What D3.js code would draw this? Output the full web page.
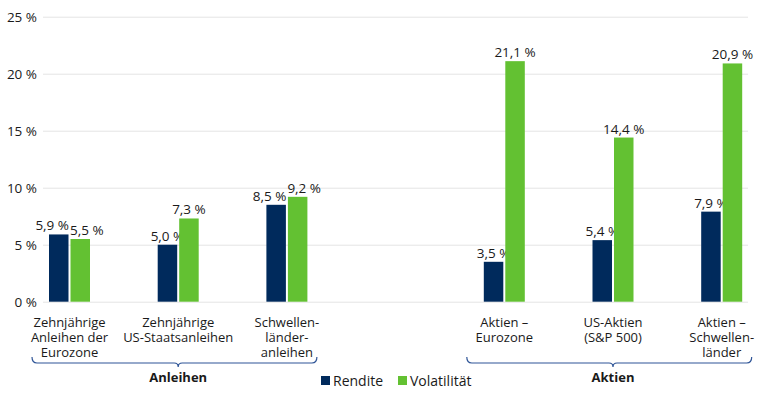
<!DOCTYPE html>
<html lang="de">
<head>
<meta charset="utf-8">
<title>Rendite und Volatilität</title>
<script src="https://cdn.jsdelivr.net/npm/d3@7"></script>
<style>
  body { margin: 0; background: #fff; }
  text { font-family: "Open Sans", "Noto Sans", sans-serif; fill: #1a1a1a; }
</style>
</head>
<body>
<script>
// data
var categories = [
  ["Zehnjährige", "Anleihen der", "Eurozone"],
  ["Zehnjährige", "US-Staatsanleihen"],
  ["Schwellen-", "länder-", "anleihen"],
  [],
  ["Aktien –", "Eurozone"],
  ["US-Aktien", "(S&P 500)"],
  ["Aktien –", "Schwellen-", "länder"]
];
var rendite =    [5.9, 5.0, 8.5, null, 3.5, 5.4, 7.9];
var volatilitaet = [5.5, 7.3, 9.2, null, 21.1, 14.4, 20.9];
var seriesNames = ["Rendite", "Volatilität"];
var yTicks = [0, 5, 10, 15, 20, 25];
var groups = [
  { name: "Anleihen", from: 0, to: 2 },
  { name: "Aktien", from: 4, to: 6 }
];

var w = 770, h = 401;
var navy = "#002a5c", green = "#63c132";
var colors = [navy, green];

var svg = d3.select("body").append("svg")
  .attr("width", w)
  .attr("height", h);

// scales
var x = d3.scalePoint()
  .domain(d3.range(categories.length))
  .range([69.5, 721.7]);
var y = d3.scaleLinear()
  .domain([0, 25])
  .range([301.7, 16.7]);
var barW = 19.5, gap = 2;

// gridlines + y labels
var yAxis = d3.axisLeft(y)
  .tickValues(yTicks)
  .tickSize(-(748 - 43))
  .tickPadding(6)
  .tickFormat(function(d) { return d + " %"; });
var gy = svg.append("g")
  .attr("transform", "translate(43,0)")
  .call(yAxis);
gy.select(".domain").remove();
gy.selectAll(".tick line").attr("stroke", "#e4e4e4").attr("stroke-width", 1);
gy.selectAll(".tick text")
  .attr("font-size", "13.5px")
  .attr("fill", "#1a1a1a")
  .attr("font-family", "'Open Sans', sans-serif");

// bars
var seriesData = [rendite, volatilitaet];
var labelSel = [];
seriesData.forEach(function(vals, s) {
  var items = vals.map(function(v, i) { return { i: i, v: v }; })
    .filter(function(d) { return d.v !== null; });
  var offset = s === 0 ? -barW - gap / 2 : gap / 2;
  svg.append("g").selectAll("rect")
    .data(items)
    .enter()
    .append("rect")
    .attr("x", function(d) { return x(d.i) + offset; })
    .attr("y", function(d) { return y(d.v); })
    .attr("width", barW)
    .attr("height", function(d) { return y(0) - y(d.v); })
    .attr("fill", colors[s]);
  labelSel[s] = svg.append("g").selectAll("text")
    .data(items)
    .enter()
    .append("text")
    .text(function(d) { return d.v.toFixed(1).replace(".", ",") + " %"; })
    .attr("x", function(d) { return x(d.i) + offset + barW / 2; })
    .attr("y", function(d) { return y(d.v) - 4; })
    .attr("text-anchor", "middle")
    .attr("font-size", "13.5px");
});

// push apart value labels of the same group if they collide
var left = labelSel[0].nodes(), right = labelSel[1].nodes();
left.forEach(function(ln, k) {
  var rn = right[k];
  var lb = ln.getBBox(), rb = rn.getBBox();
  var vOverlap = lb.y < rb.y + rb.height && rb.y < lb.y + lb.height;
  var over = lb.x + lb.width + 1 - rb.x;
  if (vOverlap && over > 0) {
    var lx = +ln.getAttribute("x"), rx = +rn.getAttribute("x");
    ln.setAttribute("x", lx - over / 2);
    rn.setAttribute("x", rx + over / 2);
  }
});

// category labels
var cat = svg.append("g").selectAll("text")
  .data(categories)
  .enter()
  .append("text")
  .attr("text-anchor", "middle")
  .attr("font-size", "13px")
  .attr("transform", function(d, i) { return "translate(" + x(i) + ",327)"; });
cat.selectAll("tspan")
  .data(function(d) { return d; })
  .enter()
  .append("tspan")
  .attr("x", 0)
  .attr("dy", function(d, j) { return j === 0 ? 0 : 15; })
  .text(function(d) { return d; });

// braces
var braceY = 363;
groups.forEach(function(g) {
  var x0 = x(g.from) - 37.5, x1 = x(g.to) + 30, xm = (x(g.from) + x(g.to)) / 2;
  var path = "M" + x0 + "," + (braceY - 6) +
    " Q" + x0 + "," + braceY + " " + (x0 + 5) + "," + braceY +
    " L" + (xm - 4) + "," + braceY +
    " Q" + xm + "," + braceY + " " + xm + "," + (braceY + 4) +
    " Q" + xm + "," + braceY + " " + (xm + 4) + "," + braceY +
    " L" + (x1 - 5) + "," + braceY +
    " Q" + x1 + "," + braceY + " " + x1 + "," + (braceY - 6);
  svg.append("path")
    .attr("d", path)
    .attr("fill", "none")
    .attr("stroke", "#2f5597")
    .attr("stroke-width", 1.2);
  svg.append("text")
    .text(g.name)
    .attr("x", xm)
    .attr("y", 382)
    .attr("text-anchor", "middle")
    .attr("font-size", "13px")
    .attr("font-weight", "bold");
});

// legend
var legend = svg.append("g").selectAll("g")
  .data(seriesNames)
  .enter()
  .append("g")
  .attr("transform", function(d, i) { return "translate(" + (i === 0 ? 321 : 398) + ",376)"; });
legend.append("rect")
  .attr("width", 9)
  .attr("height", 9)
  .attr("fill", function(d, i) { return colors[i]; });
legend.append("text")
  .text(function(d) { return d; })
  .attr("x", 12)
  .attr("y", 9.5)
  .attr("font-size", "14px");
</script>
</body>
</html>
